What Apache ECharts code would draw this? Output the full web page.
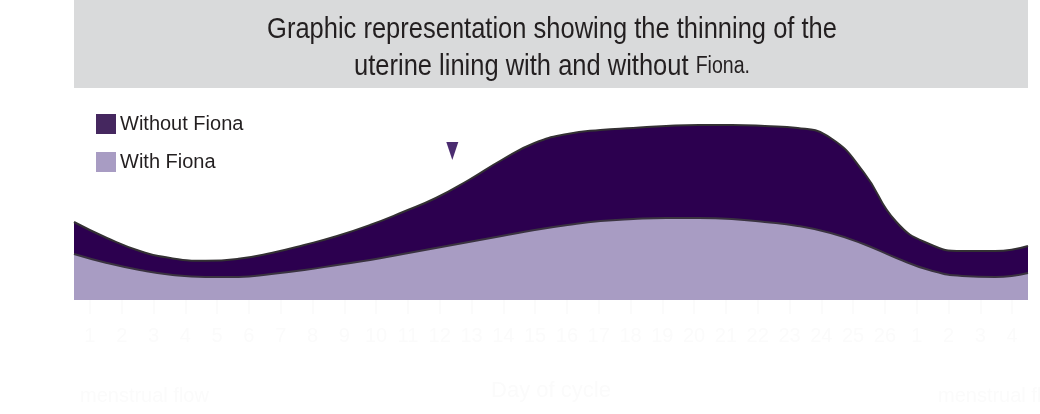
<!DOCTYPE html>
<html>
<head>
<meta charset="utf-8">
<script src="https://cdn.jsdelivr.net/npm/echarts@6/dist/echarts.min.js"></script>
<style>html,body{margin:0;padding:0;background:#fff}#c{width:1040px;height:414px}</style>
</head>
<body>
<div id="c"></div>
<script>
var days = [0,1,2,3,4,5,6,7,8,9,10,11,12,13,14,15,16,17,18,19,20,21,22,23,24,25,26,27,28,29];
var withoutFiona = [39,31,24.5,20.8,19.6,20.6,23.5,27.5,32,37.5,44,51,60,70,78.5,83,85,86,87,87.5,87.5,87,86,81,64,39,28,24.5,24.5,27];
var withFiona = [23,18.5,15,12.5,11.5,11.5,13,15,17.5,20,23,26,29,32,35,37.5,39.5,40.5,41,41,40.5,39,37,33.5,28,21,15,12,11.5,13.5];
var dayLabels = ['1','2','3','4','5','6','7','8','9','10','11','12','13','14','15','16','17','18','19','20','21','22','23','24','25','26','1','2','3','4'];
var titleLine1 = 'Graphic representation showing the thinning of the';
var titleLine2 = 'uterine lining with and without ';
var titleBrand = 'Fiona.';
var markerDay = 11.5, markerValue = 74.5;
var FONT = '"Liberation Sans", Arial, sans-serif';
var faint = '#fbfbfb';

function pairs(v){ return days.map(function(d,i){ return [d, v[i]]; }); }

var chart = echarts.init(document.getElementById('c'));
chart.setOption({
  animation: false,
  backgroundColor: '#ffffff',
  graphic: [
    { type: 'rect', z: -10, shape: { x: 74, y: 0, width: 954, height: 88 }, style: { fill: '#d9dadb' } },
    { type: 'text', x: 552, y: 30, scaleX: 0.85, z: 10,
      style: { text: titleLine1, fontFamily: FONT, fontSize: 30, fill: '#231f20', align: 'center', verticalAlign: 'middle' } },
    { type: 'text', x: 552, y: 67, scaleX: 0.85, z: 10,
      style: { text: titleLine2 + '{s|' + titleBrand + '}', fontFamily: FONT, fontSize: 30, fill: '#231f20',
        align: 'center', verticalAlign: 'middle',
        rich: { s: { fontFamily: FONT, fontSize: 23, fill: '#231f20', color: '#231f20' } } } },
    { type: 'text', left: 80, top: 386, style: { text: 'menstrual flow', fontFamily: FONT, fontSize: 20, fill: faint } },
    { type: 'text', left: 938, top: 386, style: { text: 'menstrual flow', fontFamily: FONT, fontSize: 20, fill: faint } }
  ],
  legend: {
    orient: 'vertical', left: 96, top: 114, itemWidth: 20, itemHeight: 20, itemGap: 18, padding: 0,
    icon: 'rect',
    textStyle: { fontFamily: FONT, fontSize: 20, color: '#231f20', padding: [0,0,0,-1] },
    data: [
      { name: 'Without Fiona', itemStyle: { color: '#45275f', borderWidth: 0 } },
      { name: 'With Fiona', itemStyle: { color: '#a89cc3', borderWidth: 0 } }
    ]
  },
  grid: { left: 74, right: 12, top: 100, bottom: 114 },
  xAxis: [
    { type: 'value', min: 0, max: 29, show: false },
    { type: 'category', position: 'bottom', data: dayLabels, boundaryGap: true,
      axisLine: { show: false },
      axisTick: { show: true, alignWithLabel: true, length: 14, lineStyle: { color: faint, width: 2 } },
      axisLabel: { color: faint, fontFamily: FONT, fontSize: 20, margin: 26, interval: 0 },
      name: 'Day of cycle', nameLocation: 'middle', nameGap: 80,
      nameTextStyle: { color: faint, fontFamily: FONT, fontSize: 22 } }
  ],
  yAxis: { type: 'value', min: 0, max: 100, show: false },
  series: [
    { name: 'Without Fiona', type: 'line', xAxisIndex: 0, data: pairs(withoutFiona), smooth: 0.5, symbol: 'none',
      lineStyle: { color: '#333033', width: 2 }, itemStyle: { color: '#45275f' },
      areaStyle: { color: '#2c004f', opacity: 1 },
      markPoint: { silent: true, data: [ { coord: [markerDay, markerValue], symbol: 'triangle', symbolRotate: 180,
        symbolSize: [12, 18], itemStyle: { color: '#4b2c70' }, label: { show: false } } ] }
    },
    { name: 'With Fiona', type: 'line', xAxisIndex: 0, data: pairs(withFiona), smooth: 0.5, symbol: 'none',
      lineStyle: { color: '#3a3340', width: 2 }, itemStyle: { color: '#a89cc3' },
      areaStyle: { color: '#a89cc3', opacity: 1 }
    }
  ]
});
</script>
</body>
</html>
